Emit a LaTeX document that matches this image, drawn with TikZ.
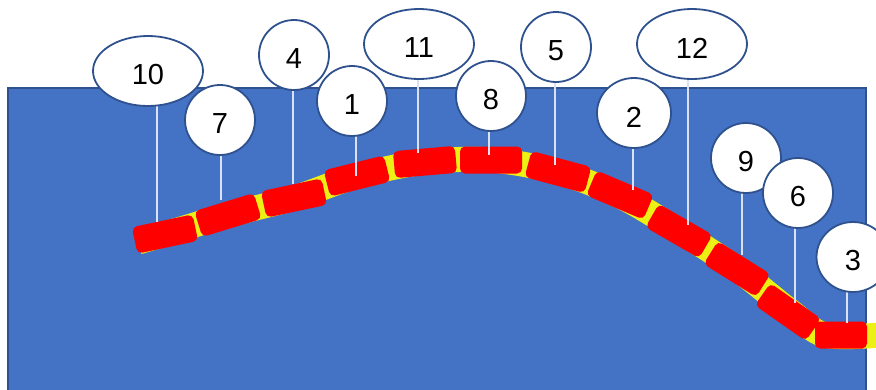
\documentclass[tikz,border=0pt]{standalone}
\usepackage{fontspec}
\setmainfont{Liberation Sans}
\usetikzlibrary{shapes.geometric}
\definecolor{bgblue}{RGB}{68,114,196}
\definecolor{edgeblue}{RGB}{47,82,143}
\definecolor{blockred}{RGB}{255,0,0}
\definecolor{bandyellow}{RGB}{236,240,20}
\definecolor{leader}{RGB}{218,226,242}
\newcommand\lowtxt[1]{\raisebox{-4pt}[\height][\depth]{#1}}
\begin{document}
\begin{tikzpicture}[x=1pt,y=-1pt,
  callout/.style={ellipse, draw=edgeblue, line width=1.8pt, fill=white, inner sep=0pt,
    minimum width=70pt, minimum height=70pt, font=\fontsize{29}{31}\selectfont},
  wide/.style={callout, minimum width=110pt, minimum height=70pt},
  seg/.style={rectangle, fill=blockred, rounded corners=5pt, inner sep=0pt,
    minimum width=62pt, minimum height=27pt},
  leaderline/.style={draw=leader, line width=1.4pt}]
\useasboundingbox (0,0) rectangle (876,389);
% background panel
\draw[edgeblue, line width=1.5pt, fill=bgblue] (8,88) rectangle (866,420);
% yellow band
\draw[bandyellow, line width=25pt, line cap=butt] plot[smooth, tension=0.55] coordinates
  {(138,242) (165,234) (228,215) (294,198) (357,176) (425,162) (491,160) (558,172)
   (620,196) (679,231) (737,269) (790,311) (825,335) (880,335)};
% red segments
\node[seg, rotate=12] (b1) at (165,234) {};
\node[seg, rotate=17] (b2) at (228,215) {};
\node[seg, rotate=12] (b3) at (294,198) {};
\node[seg, rotate=14] (b4) at (357,176) {};
\node[seg, rotate=5] (b5) at (425,162) {};
\node[seg] (b6) at (491,160) {};
\node[seg, rotate=-15] (b7) at (558,172) {};
\node[seg, rotate=-23] (b8) at (620,195) {};
\node[seg, rotate=-30] (b9) at (679,231) {};
\node[seg, rotate=-32] (b10) at (737,269) {};
\node[seg, rotate=-35] (b11) at (788,312) {};
\node[seg, minimum width=52pt] (b12) at (841,335) {};
% leader end points
\coordinate (c10) at (157,222);
\coordinate (c7) at (221,200);
\coordinate (c4) at (293,184);
\coordinate (c1) at (356,176);
\coordinate (c11) at (418,153);
\coordinate (c8) at (489,155);
\coordinate (c5) at (555,165);
\coordinate (c12) at (688,225);
\coordinate (c2) at (633,190);
\coordinate (c9) at (742,255);
\coordinate (c6) at (795,303);
\coordinate (c3) at (847,323);
% callout centres
\path (148,71) coordinate (p10) (220,120) coordinate (p7) (294,55) coordinate (p4)
  (352,101) coordinate (p1) (419,44) coordinate (p11) (491,96) coordinate (p8)
  (556,47) coordinate (p5) (692,44) coordinate (p12) (634,113) coordinate (p2)
  (746,158) coordinate (p9) (798,193) coordinate (p6) (853,257) coordinate (p3);
\foreach \n in {10,7,4,1,11,8,5,12,2,9,6,3}
  \draw[leaderline] (c\n |- p\n) -- (c\n);
\node[wide] (n10) at (p10) {\lowtxt{10}};
\node[wide] (n11) at (p11) {\lowtxt{11}};
\node[wide] (n12) at (p12) {\lowtxt{12}};
\node[callout] (n4) at (p4) {\lowtxt{4}};
\node[callout] (n5) at (p5) {\lowtxt{5}};
\node[callout] (n7) at (p7) {\lowtxt{7}};
\node[callout] (n1) at (p1) {\lowtxt{1}};
\node[callout] (n8) at (p8) {\lowtxt{8}};
\node[callout, minimum width=74pt] (n2) at (p2) {\lowtxt{2}};
\node[callout] (n9) at (p9) {\lowtxt{9}};
\node[callout] (n6) at (p6) {\lowtxt{6}};
\node[callout, minimum width=73pt, minimum height=70pt] (n3) at (p3) {\lowtxt{3}};
\end{tikzpicture}
\end{document}
